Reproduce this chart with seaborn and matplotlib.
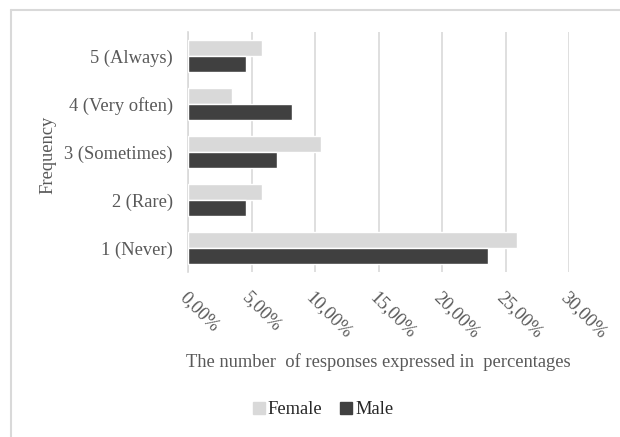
import matplotlib
matplotlib.use("Agg")
import matplotlib.pyplot as plt
import matplotlib.lines as mlines
import matplotlib.patches as mpatches
from matplotlib.ticker import FuncFormatter
import seaborn as sns
import pandas as pd

categories = ["5 (Always)", "4 (Very often)", "3 (Sometimes)", "2 (Rare)", "1 (Never)"]
female = [5.8, 3.5, 10.5, 5.8, 25.9]
male = [4.6, 8.2, 7.0, 4.6, 23.6]
groups = ["Female", "Male"]
x_ticks = [0, 5, 10, 15, 20, 25, 30]

df = pd.DataFrame({
    "Frequency": categories * 2,
    "value": female + male,
    "Gender": ["Female"] * len(categories) + ["Male"] * len(categories),
})

sns.set_theme(style="white")
plt.rcParams["font.family"] = ["Liberation Serif", "DejaVu Serif"]

text_color = "#595959"
grid_color = "#d9d9d9"
palette = {"Female": "#d9d9d9", "Male": "#404040"}
fs = 13.3

fig = plt.figure(figsize=(6.2, 4.37), dpi=100)
ax = fig.add_axes([188 / 620, 1 - 272 / 437, (569 - 188) / 620, 240 / 437])

sns.barplot(data=df, y="Frequency", x="value", hue="Gender", order=categories,
            hue_order=groups, palette=palette, orient="h", width=0.67,
            gap=0, saturation=1, ax=ax, legend=False, zorder=3)

ax.set_xlim(0, 30)
ax.set_xticks(x_ticks)
ax.xaxis.set_major_formatter(FuncFormatter(lambda v, p: f"{v:.2f}".replace(".", ",") + "%"))
ax.grid(axis="x", color=grid_color, linewidth=1.2, zorder=0)
ax.grid(axis="y", visible=False)
for s in ["top", "right", "bottom"]:
    ax.spines[s].set_visible(False)
ax.spines["left"].set_color(grid_color)
ax.spines["left"].set_linewidth(1.2)
ax.tick_params(axis="both", length=0, colors=text_color, labelsize=fs)
ax.tick_params(axis="x", pad=12)
ax.tick_params(axis="y", pad=11)
for lbl in ax.get_xticklabels():
    lbl.set_rotation(-45)
    lbl.set_ha("left")
    lbl.set_va("top")
    lbl.set_rotation_mode("anchor")

ax.set_ylabel("")
ax.set_xlabel("")
fig.text(48 / 620, 1 - 155 / 437, "Frequency", rotation=90, ha="center", va="center",
         color=text_color, fontsize=fs)
fig.text(378 / 620, 1 - 362 / 437, "The number  of responses expressed in  percentages",
         ha="center", va="center", color=text_color, fontsize=fs)

handles = [mpatches.Patch(color=palette[g], label=g) for g in groups]
fig.legend(handles=handles, loc="center", bbox_to_anchor=(323 / 620, 1 - 410 / 437),
           ncol=2, frameon=False, fontsize=fs, labelcolor="#262626",
           handlelength=0.65, handleheight=0.65, handletextpad=0.15, columnspacing=1.0)

# outer frame edges
fig.add_artist(mlines.Line2D([11 / 620, 1], [1 - 10 / 437, 1 - 10 / 437], color=grid_color, linewidth=1.5))
fig.add_artist(mlines.Line2D([11 / 620, 11 / 620], [0, 1 - 10 / 437], color=grid_color, linewidth=1.5))

fig.savefig("out.png", dpi=100)
